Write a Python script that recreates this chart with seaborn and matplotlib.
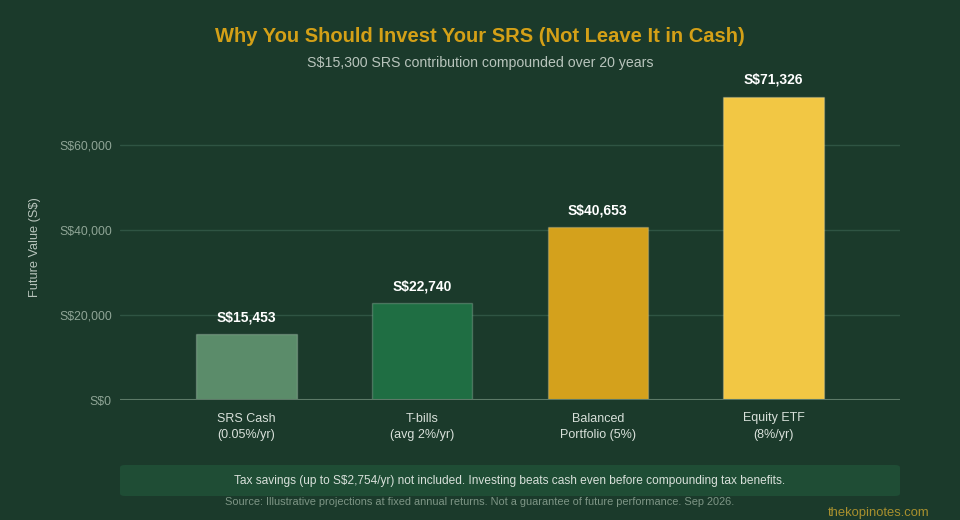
import pandas as pd
import seaborn as sns
import matplotlib.pyplot as plt
from matplotlib.patches import FancyBboxPatch

# data
categories = ["SRS Cash\n(0.05%/yr)", "T-bills\n(avg 2%/yr)", "Balanced\nPortfolio (5%)", "Equity ETF\n(8%/yr)"]
future_values = [15453, 22740, 40653, 71326]
bar_colors = ["#5b8c6a", "#1f6e43", "#d4a11c", "#f2c744"]
y_ticks = [0, 20000, 40000, 60000]

bg = "#1b3a2b"
df = pd.DataFrame({"option": categories, "value": future_values})

sns.set_style("dark")
plt.rcParams["font.family"] = ["Liberation Sans", "DejaVu Sans"]

fig = plt.figure(figsize=(9.6, 5.2), dpi=100, facecolor=bg)
ax = fig.add_axes([120 / 960, 120 / 520, 780 / 960, 319 / 520])
ax.set_facecolor(bg)

sns.barplot(data=df, x="option", y="value", hue="option", palette=bar_colors,
            legend=False, width=0.57, saturation=1, ax=ax,
            edgecolor="#ffffff33", linewidth=1, zorder=3)

ax.set_xlim(-0.72, 3.72)
ax.set_ylim(0, 75000)
ax.set_yticks(y_ticks)
ax.set_yticklabels([f"S${v:,}" for v in y_ticks])
ax.grid(axis="y", color="#2f5443", linewidth=1, zorder=0)
ax.grid(axis="x", visible=False)
ax.axhline(0, color="#5d7a68", linewidth=1.5, zorder=4)
for s in ax.spines.values():
    s.set_visible(False)

ax.tick_params(axis="y", colors="#8fa596", labelsize=8.8, length=0, pad=6)
ax.tick_params(axis="x", colors="#d8e0da", labelsize=9, length=0, pad=9)
for lbl in ax.get_xticklabels():
    lbl.set_linespacing(1.55)
ax.set_xlabel("")
ax.set_ylabel("Future Value (S$)", color="#b8c4bc", fontsize=9.2)
ax.yaxis.set_label_coords(-0.1015, 0.48)

# value labels above each bar
for i, v in enumerate(future_values):
    ax.annotate(f"S${v:,}", (i, v), xytext=(0, 7), textcoords="offset points",
                ha="center", va="bottom", color="white", fontsize=10, fontweight="bold")

fig.text(0.5, 1 - 37 / 520, "Why You Should Invest Your SRS (Not Leave It in Cash)",
         ha="center", va="center", color="#d4a017", fontsize=14.5, fontweight="bold")
fig.text(0.5, 1 - 63 / 520, "S$15,300 SRS contribution compounded over 20 years",
         ha="center", va="center", color="#b8c4bc", fontsize=10.2)

# footer note box
box = FancyBboxPatch((120 / 960, 1 - 496 / 520), 780 / 960, 31 / 520,
                     boxstyle="round,pad=0,rounding_size=0.005",
                     transform=fig.transFigure, facecolor="#1f4d35", edgecolor="none")
fig.patches.append(box)
fig.text(510 / 960, 1 - 481 / 520,
         "Tax savings (up to S$2,754/yr) not included. Investing beats cash even before compounding tax benefits.",
         ha="center", va="center", color="#d8e0da", fontsize=8.6)
fig.text(0.5, 1 - 502 / 520,
         "Source: Illustrative projections at fixed annual returns. Not a guarantee of future performance. Sep 2026.",
         ha="center", va="center", color="#7d9585", fontsize=7.95)
fig.text(929 / 960, 1 - 513 / 520, "thekopinotes.com",
         ha="right", va="center", color="#a8902e", fontsize=9.4)

fig.savefig("out.png", dpi=100, facecolor=bg)
